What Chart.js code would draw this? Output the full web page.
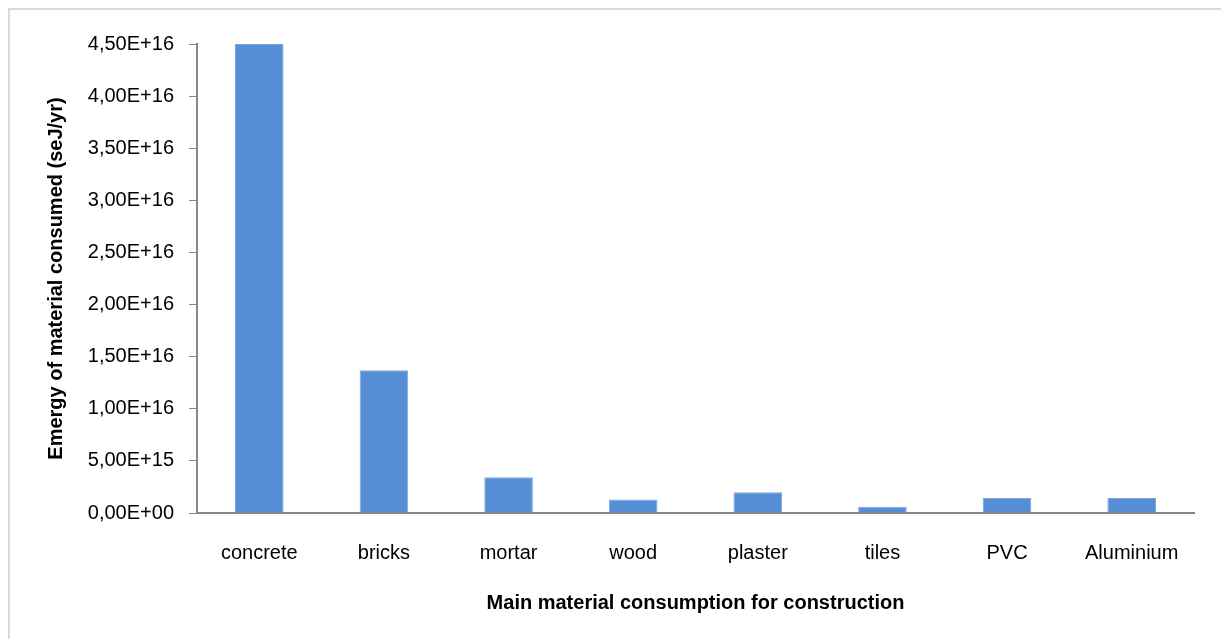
<!DOCTYPE html>
<html>
<head>
<meta charset="utf-8">
<script src="https://cdn.jsdelivr.net/npm/chart.js@4"></script>
<style>
  html, body { margin: 0; padding: 0; background: #fff; }
  #wrap { position: absolute; left: 0; top: 0; width: 1221px; height: 639px; }
  #frame { position: absolute; left: 8px; top: 8px; width: 1213px; height: 631px;
           border-top: 2px solid #d9d9d9; border-left: 2px solid #d9d9d9; box-sizing: border-box; }
</style>
</head>
<body>
<div id="wrap">
  <div id="frame"></div>
  <canvas id="emergyChart" width="1221" height="639"></canvas>
</div>
<script>
const categories = ['concrete', 'bricks', 'mortar', 'wood', 'plaster', 'tiles', 'PVC', 'Aluminium'];
const emergyValues = [4.50e16, 1.37e16, 3.42e15, 1.30e15, 2.00e15, 0.60e15, 1.45e15, 1.45e15];
const yMin = 0;
const yMax = 4.5e16;
const yStep = 5e15;

// Excel style "4,50E+16"
function sciLabel(v) {
    const parts = Number(v).toExponential(2).split('e');
    const mant = parts[0].replace('.', ',');
    let exp = parseInt(parts[1], 10);
    const sign = exp < 0 ? '-' : '+';
    exp = Math.abs(exp);
    return mant + 'E' + sign + (exp < 10 ? '0' + exp : exp);
}

const ctx = document.getElementById('emergyChart').getContext('2d');
const emergyChart = new Chart(ctx, {
    type: 'bar',
    data: {
        labels: categories,
        datasets: [{
            label: 'Emergy',
            data: emergyValues,
            backgroundColor: '#558ed5',
            borderColor: '#7aa6de',
            borderWidth: 1,
            categoryPercentage: 1.0,
            barPercentage: 0.39
        }]
    },
    options: {
        responsive: false,
        animation: false,
        layout: {
            padding: { left: 42, right: 27, top: 44, bottom: 24 }
        },
        plugins: {
            legend: { display: false },
            tooltip: { enabled: false }
        },
        scales: {
            x: {
                grid: { display: false, drawTicks: false },
                border: { display: true, color: '#868686', width: 2 },
                ticks: {
                    color: '#000',
                    padding: 28,
                    font: { family: '"Liberation Sans", Arial, sans-serif', size: 20 }
                },
                title: {
                    display: true,
                    text: 'Main material consumption for construction',
                    color: '#000',
                    padding: { top: 0, bottom: 0 },
                    font: { family: '"Liberation Sans", Arial, sans-serif', size: 20, weight: 'bold' }
                },
                afterFit: function (scale) { scale.height = 102; }
            },
            y: {
                min: yMin,
                max: yMax,
                grid: { display: true, drawOnChartArea: false, drawTicks: true, tickLength: 8, color: '#868686', lineWidth: 1 },
                border: { display: true, color: '#868686', width: 2 },
                ticks: {
                    stepSize: yStep,
                    color: '#000',
                    padding: 15,
                    font: { family: '"Liberation Sans", Arial, sans-serif', size: 20 },
                    callback: function (value) { return sciLabel(value); }
                },
                title: {
                    display: true,
                    text: 'Emergy of material consumed (seJ/yr)',
                    color: '#000',
                    padding: { top: 2, bottom: 0 },
                    font: { family: '"Liberation Sans", Arial, sans-serif', size: 20, weight: 'bold' }
                },
                afterFit: function (scale) { scale.width = 155; }
            }
        }
    }
});
</script>
</body>
</html>
